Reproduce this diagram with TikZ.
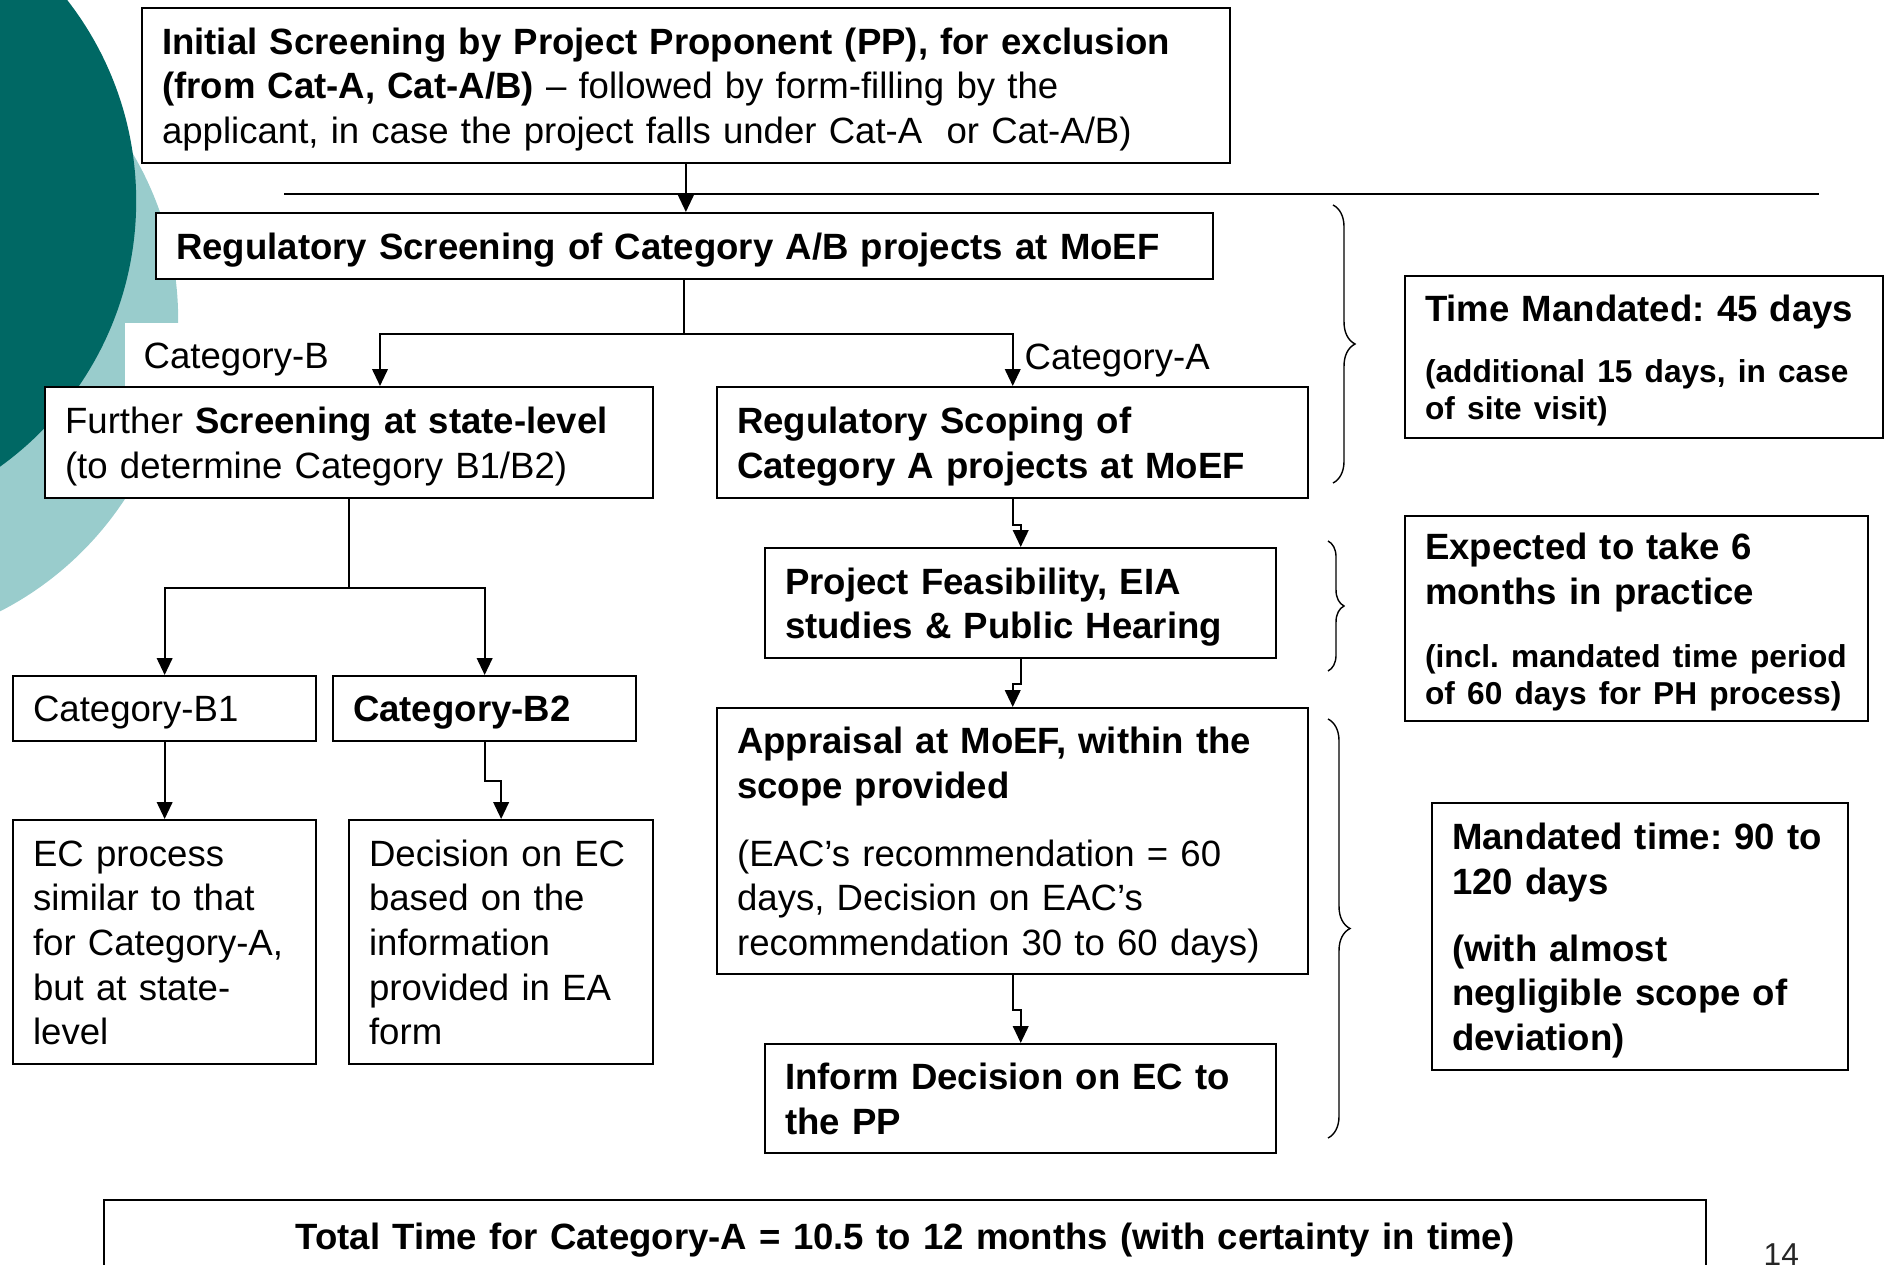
\documentclass[tikz,border=0pt]{standalone}
\usepackage{fontspec}
\setmainfont{Liberation Sans}
\usepackage{tikz}
\usetikzlibrary{arrows.meta,decorations.pathreplacing}
\definecolor{darkteal}{RGB}{0,104,100}
\definecolor{lightteal}{RGB}{153,204,204}
\newcommand{\bigtext}{\fontsize{10.4}{12.7}\selectfont\frenchspacing}
\newcommand{\smalltext}{\fontsize{9}{10.6}\selectfont\frenchspacing}
\newcommand{\timebrace}[3]{\draw[brc, decoration={brace, amplitude=#3}] #1 -- #2;}
\tikzset{
	struts/.style={execute at begin node={\rule{0pt}{10.2pt}},
		execute at end node={\rule[-2.6pt]{0pt}{2.6pt}}},
	box/.style={draw, line width=0.6pt, fill=white, anchor=north west, align=left,
		inner xsep=0.2cm, inner ysep=0pt, struts},
	link/.style={line width=0.6pt},
	arr/.style={line width=0.6pt, -{Triangle[width=4.4pt,length=4.8pt]}},
	brc/.style={line width=0.4pt, decorate}
}

\begin{document}
\begin{tikzpicture}[x=0.01cm, y=-0.01cm, every node/.style={font=\bigtext}]

					\useasboundingbox (0,0) rectangle (1886,1264);
					\clip (0,0) rectangle (1886,1264);

					\fill[lightteal] (-149,320) circle[radius=3.27cm];
					\fill[darkteal] (-191,201) circle[radius=3.27cm];

					\node[fill=white, anchor=north west, minimum height=0.64cm, minimum width=2.3cm, struts,
						inner xsep=0.19cm, inner ysep=0pt, text width=1.92cm, align=left] (catb) at (124,322) {Category-B};
					\node[anchor=west, inner sep=0pt] (cata) at (1024,361) {Category-A};

					\draw[link] (284,194) -- (1819,194);

					\node[box, minimum width=10.87cm, minimum height=1.55cm, text width=10.47cm] (init) at (141,7)
						{\textbf{Initial Screening by Project Proponent (PP), for exclusion}\\
						\textbf{(from Cat-A, Cat-A/B)} – followed by form-filling by the\\
						applicant, in case the project falls under Cat-A\ \ or Cat-A/B)};

					\node[box, minimum width=10.56cm, minimum height=0.66cm, text width=10.16cm] (regscreen) at (155,212)
						{\textbf{Regulatory Screening of Category A/B projects at MoEF}};

					\node[box, minimum width=6.08cm, minimum height=1.11cm, text width=5.68cm] (further) at (44,386)
						{Further \textbf{Screening at state-level}\\(to determine Category B1/B2)};

					\node[box, minimum width=5.91cm, minimum height=1.11cm, text width=5.51cm] (regscope) at (716,386)
						{\textbf{Regulatory Scoping of\\Category A projects at MoEF}};

					\node[box, minimum width=3.03cm, minimum height=0.65cm, text width=2.63cm] (catbone) at (12,675)
						{Category-B1};

					\node[box, minimum width=3.03cm, minimum height=0.65cm, text width=2.63cm] (catbtwo) at (332,675)
						{\textbf{Category-B2}};

					\node[box, minimum width=3.03cm, minimum height=2.44cm, text width=2.63cm] (ecproc) at (12,819)
						{EC process\\similar to that\\for Category-A,\\but at state-\\level};

					\node[box, minimum width=3.04cm, minimum height=2.44cm, text width=2.64cm] (ecdecision) at (348,819)
						{Decision on EC\\based on the\\information\\provided in EA\\form};

					\node[box, minimum width=5.11cm, minimum height=1.10cm, text width=4.71cm] (feasib) at (764,547)
						{\textbf{Project Feasibility, EIA\\studies \& Public Hearing}};

					\node[box, minimum width=5.91cm, minimum height=2.66cm, text width=5.51cm] (appraisal) at (716,707)
						{\textbf{Appraisal at MoEF, within the\\scope provided}\\[6.6pt]
						(EAC’s recommendation = 60\\days, Decision on EAC’s\\recommendation 30 to 60 days)};

					\node[box, minimum width=5.11cm, minimum height=1.09cm, text width=4.71cm] (inform) at (764,1043)
						{\textbf{Inform Decision on EC to\\the PP}};

					\node[box, minimum width=4.78cm, minimum height=1.62cm, text width=4.38cm] (tmandated) at (1404,275)
						{\textbf{Time Mandated: 45 days}\par\vspace{6.8pt}
						\smalltext\textbf{(additional 15 days, in case\\[-2.2pt]of site visit)}};

					\node[box, minimum width=4.63cm, minimum height=2.05cm, text width=4.23cm] (expected) at (1404,515)
						{\textbf{Expected to take 6\\months in practice}\par\vspace{7.3pt}
						\smalltext\textbf{(incl. mandated time period\\[-2.2pt]of 60 days for PH process)}};

					\node[box, minimum width=4.16cm, minimum height=2.67cm, text width=3.76cm] (mandated) at (1431,802)
						{\textbf{Mandated time: 90 to\\120 days\\[6.4pt](with almost\\negligible scope of\\deviation)}};

					\node[box, align=center, minimum width=16.01cm, minimum height=0.72cm, text width=15.61cm] (total) at (103,1199)
						{\textbf{Total Time for Category-A = 10.5 to 12 months (with certainty in time)}};

					\node[anchor=north west, inner sep=0pt, font=\fontsize{9}{10}\selectfont, text=black!85] (pagenum) at (1763,1243) {14};

					\draw[arr] (init.south) -- (init.south |- regscreen.north);

					\path (regscreen.south) ++(0,54) coordinate (rjoin);
					\path (further.north west) ++(336,0) coordinate (furtherin);
					\draw[link] (regscreen.south) -- (rjoin);
					\draw[arr] (rjoin) -| (furtherin);
					\draw[arr] (rjoin) -| (regscope.north);

					\path (further.south) ++(0,89) coordinate (fjoin);
					\draw[link] (further.south) -- (fjoin);
					\draw[arr] (fjoin) -| (catbone.north);
					\draw[arr] (fjoin) -| (catbtwo.north);

					\draw[arr] (catbone.south) -- (ecproc.north);
					\draw[arr] (catbtwo.south) -- ++(0,39) -| (ecdecision.north);

					\draw[arr] (regscope.south) -- ++(0,26) -| (feasib.north);
					\draw[arr] (feasib.south) -- ++(0,25) -| (appraisal.north);
					\draw[arr] (appraisal.south) -- ++(0,35) -| (inform.north);

					\timebrace{(1333,205)}{(1333,483)}{0.22cm}
					\timebrace{(1328,541)}{(1328,671)}{0.16cm}
					\timebrace{(1328,719)}{(1328,1138)}{0.22cm}

\end{tikzpicture}
\end{document}
